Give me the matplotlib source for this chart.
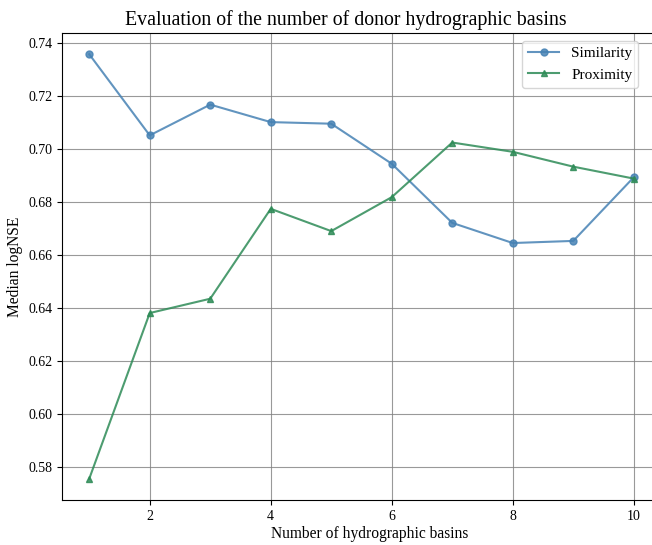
import matplotlib
matplotlib.use("Agg")
import matplotlib.pyplot as plt

plt.rcParams['font.family'] = ['Liberation Serif', 'DejaVu Serif']

n_basins = [1, 2, 3, 4, 5, 6, 7, 8, 9, 10]
similarity = [0.7358, 0.7052, 0.7168, 0.7102, 0.7096, 0.6945, 0.6722, 0.6646, 0.6654, 0.6894]
proximity = [0.5757, 0.6382, 0.6436, 0.6775, 0.6691, 0.6819, 0.7025, 0.6990, 0.6934, 0.6889]

fig = plt.figure(figsize=(6.52, 5.45), dpi=100)
ax = fig.add_axes([62 / 652, 45 / 545, 599 / 652, 467 / 545])

ax.plot(n_basins, similarity, marker='o', color='steelblue', alpha=0.85,
        label='Similarity', markersize=5)
ax.plot(n_basins, proximity, marker='^', color='seagreen', alpha=0.85,
        label='Proximity', markersize=5)

ax.set_title('Evaluation of the number of donor hydrographic basins', fontsize=14.3, x=0.474)
ax.set_xlabel('Number of hydrographic basins', fontsize=11.2)
ax.xaxis.set_label_coords(0.514, -0.055)
ax.set_ylabel('Median logNSE', fontsize=11.2)
ax.grid(True, color='grey', linewidth=0.8, alpha=0.8)
ax.set_xticks([2, 4, 6, 8, 10])
ax.legend(loc='upper right', bbox_to_anchor=(0.975, 1.0), fontsize=11)

fig.savefig('out.png', dpi=100)
